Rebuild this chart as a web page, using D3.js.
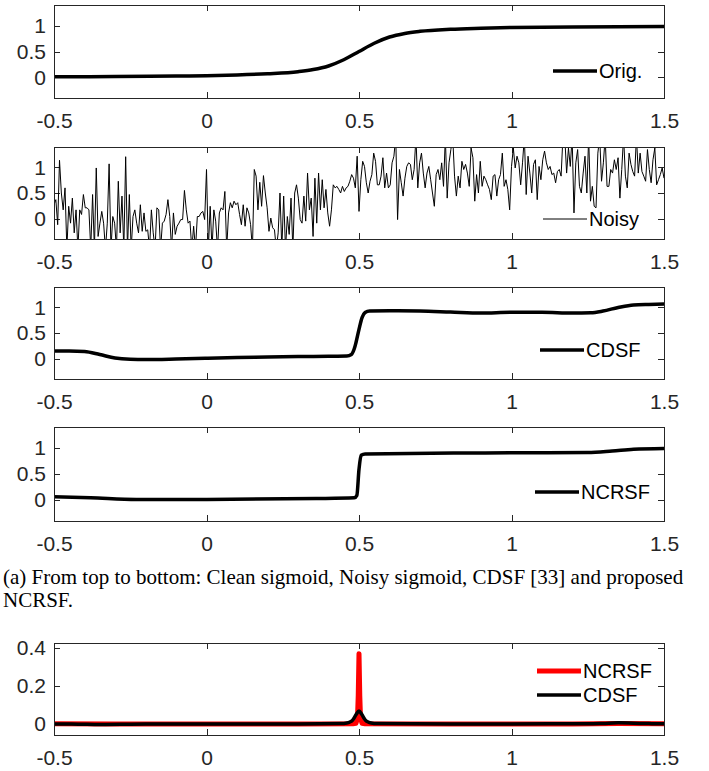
<!DOCTYPE html>
<meta charset="utf-8">
<style>

body {
  margin: 0;
  background: #fff;
}

.axis text {
  font: 21px "Liberation Sans", Arial, sans-serif;
  fill: #262626;
}

.axis line,
.axis path {
  stroke: #262626;
  shape-rendering: crispEdges;
}

.box {
  fill: none;
  stroke: #262626;
  shape-rendering: crispEdges;
}

.legend text {
  font: 20px "Liberation Sans", Arial, sans-serif;
  fill: #000;
}

.caption {
  font: 21px "Liberation Serif", "Times New Roman", serif;
  fill: #000;
}

</style>
<body>
<script src="https://d3js.org/d3.v7.min.js"></script>
<script>

// tick values
var xTicks = [-0.5, 0, 0.5, 1, 1.5];
var sigTicks = [0, 0.5, 1];
var derTicks = [0, 0.2, 0.4];

// clean sigmoid
var origX = [-0.5, -0.3, -0.1, 0, 0.1, 0.2, 0.3, 0.35, 0.4, 0.45, 0.5, 0.55, 0.6, 0.65, 0.7, 0.8, 0.9, 1.0, 1.2, 1.5];
var origY = [0.01, 0.015, 0.025, 0.03, 0.045, 0.07, 0.11, 0.15, 0.22, 0.34, 0.5, 0.66, 0.78, 0.85, 0.89, 0.93, 0.95, 0.965, 0.975, 0.985];

// noisy sigmoid, evenly sampled over [-0.5, 1.5]
var noisyY = [
  0.27, 0.37, -0.12, 1.14, 0.50, 0.17, 0.60, -0.6, 0.24, -0.09, 0.40, -0.28, 0.17, -0.6, 0.17, 0.08, 0.47, 0.21, 0.21, 0.17,
  -0.6, 0.47, -0.6, 0.99, -0.35, -0.09, 0.14, -0.09, -0.6, -0.09, 1.07, -0.6, 0.04, -0.09, -0.6, 0.73, -0.28, 0.44, -0.6, 1.21,
  -0.6, 0.47, -0.6, 0.04, 0.17, -0.09, -0.28, 0.27, -0.25, 0.11, -0.25, -0.22, -0.6, 0.17, -0.28, -0.6, 0.21, 0.17, -0.6, -0.09,
  -0.05, 0.08, 0.37, 0.04, -0.6, 0.11, -0.31, -0.15, -0.09, -0.02, -0.02, 0.55, 0.17, -0.09, -0.05, -0.6, -0.15, -0.6, 0.04, 0.04,
  0.11,
  0.14, -0.02, 0.96, -0.6, 0.24, -0.6, 0.17, -0.05, -0.6, 0.11, 0.21, 0.17, 0.53, -0.6, 0.11, 0.31, 0.21, 0.34, 0.27, 0.31,
  0.08, -0.12, 0.27, -0.15, 0.21, 0.11, -0.12, -0.6, 0.96, 0.83, 0.17, 0.71, 0.24, 0.84, 0.50, 0.21, -0.25, 0.01, -0.18, -0.22,
  -0.6, -0.28, 0.50, -0.6, 0.44, -0.6, 0.04, -0.31, 0.40, -0.6, 0.50, 0.66, 0.40, -0.02, -0.09, 0.44, -0.05, 0.89, 0.17, 0.40,
  -0.35, 0.79, -0.09, 0.89, 0.17, 0.76, 0.21, 0.57, 0.11, -0.15, 0.17, 0.66, 0.60, 0.63, 0.57, 0.50, 0.63, 0.53, 0.60, 0.63,
  0.73, 0.86, 0.79,
  0.60, 1.22, 0.14, 0.76, 1.12, 1.02, 0.70, 0.50, 0.73, 0.86, 1.28, 1.12, 0.66, 0.66, 0.83, 1.19, 0.60, 0.89, 0.60, 0.66,
  1.09, 1.22, 1.6, -0.02, 0.96, 0.70, 0.44, 0.79, 1.02, 1.09, 1.06, 0.76, 0.96, 1.6, 0.60, 1.09, 1.28, 0.89, 0.60, 0.89,
  1.02, 0.76, 0.50, 0.24, 0.86, 0.96, 0.76, 1.09, 0.63, 1.6, 0.40, 1.09, 1.35, 1.6, 0.83, 0.44, 0.83, 0.60, 1.12, 0.96,
  1.06, 0.89, 0.63, 1.38, 1.19, 0.34, 0.86, 0.50, 1.12, 0.63, 0.83, 0.76, 0.66, 0.57, 0.37, 0.83, 0.86, 0.44, 0.76, 0.86,
  1.28,
  0.63, 0.76, 0.57, 0.17, 1.02, 1.38, 0.99, 1.22, 1.09, 0.66, 1.09, 1.6, 0.47, 1.22, 0.89, 0.50, 1.06, 1.15, 0.37, 1.02,
  0.76, 1.15, 1.32, 1.09, 0.96, 1.02, 0.86, 0.89, 0.70, 0.92, 0.96, 0.83, 1.6, 1.6, 0.89, 1.38, 1.02, 1.6, 0.11, 1.09,
  1.35, 0.63, 0.50, 0.89, 1.22, 0.50, 1.6, 0.34, 0.63, 0.24, 0.21, 1.28, 1.6, 0.73, 1.09, 1.6, 0.63, 0.63, 0.96, 0.89,
  1.15, 0.96, 1.19, 0.40, 0.96, 1.6, 0.83, 0.60, 1.28, 1.06, 0.92, 0.83, 1.6, 0.89, 1.28, 0.92, 0.83, 0.73, 1.35, 0.96,
  0.70, 1.15, 1.38, 0.66, 0.76, 0.86, 0.99, 0.79
];

// CDSF fit
var cdsfX = [-0.5, -0.45, -0.4, -0.35, -0.3, -0.25, -0.2, -0.1, 0, 0.1, 0.2, 0.3, 0.4, 0.46, 0.475, 0.485, 0.49, 0.5, 0.51, 0.52, 0.535, 0.6, 0.7, 0.8, 0.9, 1.0, 1.1, 1.2, 1.26, 1.3, 1.35, 1.4, 1.45, 1.5];
var cdsfY = [0.15, 0.15, 0.14, 0.08, 0.01, -0.015, -0.02, -0.01, 0.005, 0.02, 0.03, 0.04, 0.045, 0.05, 0.08, 0.2, 0.31, 0.57, 0.8, 0.9, 0.93, 0.935, 0.93, 0.91, 0.89, 0.905, 0.905, 0.89, 0.895, 0.93, 1.0, 1.05, 1.06, 1.065];

// NCRSF fit
var ncrsfX = [-0.5, -0.38, -0.23, 0, 0.36, 0.485, 0.493, 0.5, 0.507, 0.52, 0.81, 1.0, 1.25, 1.33, 1.4, 1.5];
var ncrsfY = [0.064, 0.045, 0.013, 0.013, 0.03, 0.045, 0.09, 0.59, 0.86, 0.885, 0.9, 0.905, 0.91, 0.94, 0.975, 0.99];

// derivatives
var dNcrsfX = [-0.5, -0.3, 0, 0.3, 0.48, 0.49, 0.495, 0.4975, 0.5, 0.5025, 0.505, 0.51, 0.52, 0.8, 1.2, 1.35, 1.5];
var dNcrsfY = [0.001, 0, 0, 0.0005, 0.001, 0.004, 0.03, 0.15, 0.37, 0.15, 0.03, 0.004, 0.001, 0, 0.0005, 0.002, 0.001];
var dCdsfX = [-0.5, -0.42, -0.35, -0.28, -0.2, 0, 0.3, 0.44, 0.46, 0.47, 0.48, 0.49, 0.5, 0.51, 0.52, 0.53, 0.54, 0.56, 0.8, 1.0, 1.25, 1.3, 1.35, 1.4, 1.45, 1.5];
var dCdsfY = [0, -0.001, -0.003, -0.002, 0, 0.0003, 0.0005, 0.002, 0.005, 0.01, 0.022, 0.048, 0.068, 0.048, 0.022, 0.01, 0.005, 0.002, -0.0005, 0.0003, 0.001, 0.003, 0.006, 0.004, 0.002, 0.001];

var W = 709, H = 771;
var left = 54, right = 664;

var svg = d3.select("body").append("svg")
    .attr("width", W)
    .attr("height", H);

var x = d3.scaleLinear().domain([-0.5, 1.5]).range([0, right - left]);

function zip(xs, ys) {
  return xs.map(function(d, i) { return [d, ys[i]]; });
}

var noisyData = noisyY.map(function(v, i) {
  return [-0.5 + 2 * i / (noisyY.length - 1), v];
});

function panel(id, top, bottom, yDomain, yTicks, series, legend) {
  var h = bottom - top;
  var y = d3.scaleLinear().domain(yDomain).range([h, 0]);
  var g = svg.append("g").attr("transform", "translate(" + left + "," + top + ")");
  var fmt = function(d) { return String(d); };

  g.append("clipPath").attr("id", "clip" + id)
    .append("rect").attr("width", x.range()[1]).attr("height", h);

  g.append("g").attr("class", "axis")
      .attr("transform", "translate(0," + h + ")")
      .call(d3.axisBottom(x).tickValues(xTicks).tickFormat(fmt).tickSizeInner(-6).tickSizeOuter(0).tickPadding(15));
  g.append("g").attr("class", "axis")
      .call(d3.axisTop(x).tickValues(xTicks).tickFormat("").tickSizeInner(-6).tickSizeOuter(0));
  g.append("g").attr("class", "axis")
      .call(d3.axisLeft(y).tickValues(yTicks).tickFormat(fmt).tickSizeInner(-6).tickSizeOuter(0).tickPadding(8));
  g.append("g").attr("class", "axis")
      .attr("transform", "translate(" + x.range()[1] + ",0)")
      .call(d3.axisRight(y).tickValues(yTicks).tickFormat("").tickSizeInner(-6).tickSizeOuter(0));
  g.selectAll(".axis .domain").remove();

  var line = d3.line()
      .x(function(d) { return x(d[0]); })
      .y(function(d) { return y(d[1]); });

  series.forEach(function(s) {
    g.append("path")
        .datum(s.data)
        .attr("clip-path", "url(#clip" + id + ")")
        .attr("fill", "none")
        .attr("stroke", s.color)
        .attr("stroke-width", s.width)
        .attr("stroke-linejoin", "round")
        .attr("d", line.curve(s.curve || d3.curveMonotoneX));
  });

  g.append("rect").attr("class", "box")
      .attr("x", 0.5).attr("y", 0.5)
      .attr("width", x.range()[1]).attr("height", h);

  var lg = g.append("g").attr("class", "legend");
  legend.forEach(function(l) {
    lg.append("line")
        .attr("x1", l.x - left).attr("x2", l.x - left + 44)
        .attr("y1", l.y - top).attr("y2", l.y - top)
        .attr("stroke", l.color).attr("stroke-width", l.width);
    lg.append("text")
        .attr("x", l.x - left + 46).attr("y", l.y - top)
        .attr("dy", "0.35em")
        .text(l.label);
  });
}

panel(1, 5, 98, [-0.4, 1.4], sigTicks,
  [{data: zip(origX, origY), color: "#000", width: 3.5}],
  [{x: 553, y: 71, label: "Orig.", color: "#000", width: 3.5}]);

panel(2, 147, 239, [-0.4, 1.4], sigTicks,
  [{data: noisyData, color: "#000", width: 1, curve: d3.curveLinear}],
  [{x: 543, y: 219, label: "Noisy", color: "#000", width: 1}]);

panel(3, 287, 379, [-0.4, 1.4], sigTicks,
  [{data: zip(cdsfX, cdsfY), color: "#000", width: 3.5}],
  [{x: 540, y: 350, label: "CDSF", color: "#000", width: 3.5}]);

panel(4, 427, 521, [-0.4, 1.4], sigTicks,
  [{data: zip(ncrsfX, ncrsfY), color: "#000", width: 3.5}],
  [{x: 535, y: 492, label: "NCRSF", color: "#000", width: 3.5}]);

panel(5, 643, 735, [-0.058, 0.426], derTicks,
  [{data: zip(dNcrsfX, dNcrsfY), color: "#ff0000", width: 5, curve: d3.curveLinear},
   {data: zip(dCdsfX, dCdsfY), color: "#000", width: 3.5}],
  [{x: 537, y: 671, label: "NCRSF", color: "#ff0000", width: 5},
   {x: 537, y: 695, label: "CDSF", color: "#000", width: 3.5}]);

svg.append("text").attr("class", "caption")
    .attr("x", 3).attr("y", 584)
    .text("(a) From top to bottom: Clean sigmoid, Noisy sigmoid, CDSF [33] and proposed");
svg.append("text").attr("class", "caption")
    .attr("x", 3).attr("y", 607)
    .text("NCRSF.");

</script>
</body>
